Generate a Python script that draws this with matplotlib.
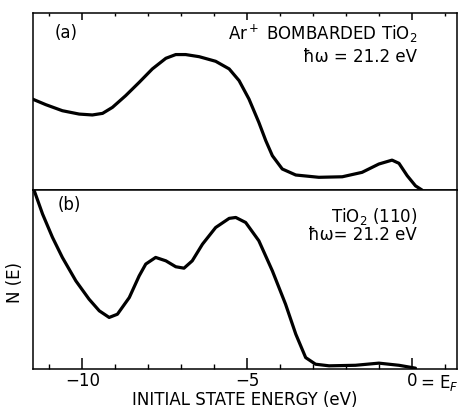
import matplotlib
matplotlib.use("Agg")
import matplotlib.pyplot as plt
from matplotlib.ticker import MultipleLocator, FixedLocator

# (a) Ar+ bombarded TiO2, hw = 21.2 eV  (energy in eV, N(E) arb. units)
E_a = [-11.52, -11.11, -10.61, -10.10, -9.70, -9.39, -9.09, -8.69, -8.28, -7.88,
       -7.47, -7.17, -6.87, -6.46, -5.96, -5.55, -5.25, -4.95, -4.65, -4.44,
       -4.24, -3.94, -3.53, -2.83, -2.12, -1.52, -1.01, -0.61, -0.40, -0.15,
       0.10, 0.30]
N_a = [5.14, 4.82, 4.48, 4.29, 4.24, 4.33, 4.67, 5.33, 6.08, 6.84,
       7.44, 7.65, 7.65, 7.53, 7.27, 6.84, 6.18, 5.14, 3.82, 2.79,
       1.94, 1.19, 0.85, 0.72, 0.75, 1.00, 1.47, 1.69, 1.51, 0.81,
       0.24, 0.00]

# (b) TiO2 (110), hw = 21.2 eV
E_b = [-11.46, -11.21, -10.91, -10.61, -10.20, -9.80, -9.49, -9.19, -8.94, -8.58,
       -8.28, -8.08, -7.78, -7.47, -7.17, -6.92, -6.67, -6.36, -5.96, -5.55,
       -5.35, -5.05, -4.65, -4.24, -3.84, -3.53, -3.23, -2.93, -2.52, -1.72,
       -1.01, -0.40, 0.10]
N_b = [9.95, 8.66, 7.36, 6.24, 4.93, 3.91, 3.26, 2.89, 3.07, 4.00,
       5.21, 5.87, 6.24, 6.05, 5.72, 5.64, 6.05, 6.98, 7.91, 8.42,
       8.47, 8.19, 7.17, 5.49, 3.63, 1.96, 0.65, 0.28, 0.19, 0.22,
       0.34, 0.22, 0.06]

XMIN, XMAX = -11.5, 1.35
LW = 2.3
FS = 12

fig = plt.figure(figsize=(4.61, 4.10), dpi=100)
ax1 = fig.add_axes([0.0716, 0.534, 0.919, 0.432])
ax2 = fig.add_axes([0.0716, 0.097, 0.919, 0.437])

for ax in (ax1, ax2):
    ax.set_xlim(XMIN, XMAX)
    ax.set_ylim(0, 10)
    ax.set_yticks([])
    for s in ax.spines.values():
        s.set_linewidth(1.1)
    ax.xaxis.set_major_locator(FixedLocator([-10, -5, 0]))
    ax.xaxis.set_minor_locator(MultipleLocator(1))

ax1.plot(E_a, N_a, color="black", lw=LW, solid_joinstyle="round", solid_capstyle="round")
ax2.plot(E_b, N_b, color="black", lw=LW, solid_joinstyle="round", solid_capstyle="round")

# top panel: ticks on top edge only, pointing in
ax1.tick_params(axis="x", which="both", direction="in", top=True, bottom=False,
                labeltop=False, labelbottom=False)
ax1.tick_params(axis="x", which="major", length=5, width=1.1)
ax1.tick_params(axis="x", which="minor", length=2.5, width=1.0)

ax2.tick_params(axis="x", which="both", direction="in", top=False, bottom=True)
ax2.tick_params(axis="x", which="major", length=8, width=1.1, labelsize=FS, pad=1.5)
ax2.tick_params(axis="x", which="minor", length=3.5, width=1.0)
ax2.set_xticklabels(["\u221210", "\u22125", "0"])
ax2.annotate("= E$_F$", xy=(0, 0), xycoords=("data", "axes fraction"),
             xytext=(6, -12.6), textcoords="offset points",
             ha="left", va="baseline", fontsize=FS)

ax2.set_xlabel("INITIAL STATE ENERGY (eV)", fontsize=FS, labelpad=0.5)
fig.text(0.033, 0.31, "N (E)", rotation=90, ha="center", va="center", fontsize=FS)

ax1.text(-10.85, 8.9, "(a)", fontsize=FS, va="center")
ax1.text(0.15, 8.9, "Ar$^+$ BOMBARDED TiO$_2$", fontsize=FS, ha="right", va="center")
ax1.text(0.15, 7.55, "\u0127\u03c9 = 21.2 eV", fontsize=FS, ha="right", va="center")

ax2.text(-10.75, 9.2, "(b)", fontsize=FS, va="center")
ax2.text(0.15, 8.6, "TiO$_2$ (110)", fontsize=FS, ha="right", va="center")
ax2.text(0.15, 7.55, "\u0127\u03c9= 21.2 eV", fontsize=FS, ha="right", va="center")

fig.savefig("out.png", dpi=100)
